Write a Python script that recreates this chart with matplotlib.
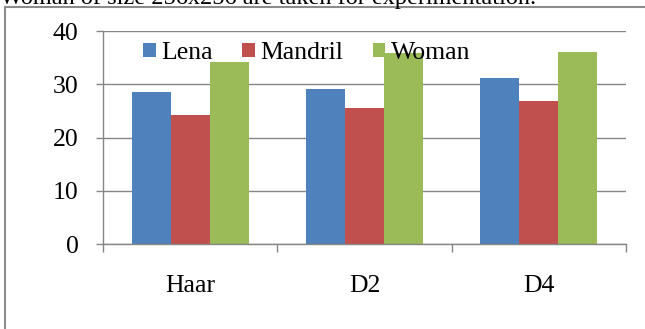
import numpy as np
import matplotlib
matplotlib.use("Agg")
import matplotlib.pyplot as plt
from matplotlib.lines import Line2D

# ---------------------------------------------------------
# Dados
# ---------------------------------------------------------
methods = ["Haar", "D2", "D4"]
lena = [28.5, 29.1, 31.25]
mandril = [24.25, 25.6, 26.8]
woman = [34.25, 35.8, 36.1]
yticks = [0, 10, 20, 30, 40]

caption = "Woman of size 256x256 are taken for experimentation."

plt.rcParams["font.family"] = ["Liberation Serif", "DejaVu Serif"]
FS = 18.5

W, H = 645, 329
fig = plt.figure(figsize=(W / 100, H / 100), dpi=100)
ax = fig.add_axes([103 / W, 1 - 244.3 / H, 523 / W, 213.3 / H])

grey = "#868686"
x = np.arange(len(methods))
w = 0.2235
ax.bar(x - w, lena, w, color="#4F81BD", label="Lena")
ax.bar(x, mandril, w, color="#C0504D", label="Mandril")
ax.bar(x + w, woman, w, color="#9BBB59", label="Woman")

ax.set_xlim(-0.5, len(methods) - 0.5)
ax.set_ylim(0, 40)
ax.set_yticks(yticks)
ax.yaxis.grid(True, color=grey, lw=1)
ax.set_axisbelow(True)

for s in ["top", "right"]:
    ax.spines[s].set_visible(False)
for s in ["left", "bottom"]:
    ax.spines[s].set_color(grey)
    ax.spines[s].set_linewidth(1)

ax.set_xticks(x)
ax.set_xticklabels(methods)
ax.set_xticks(np.arange(-0.5, len(methods)), minor=True)
ax.tick_params(axis="x", which="major", length=0, pad=22, labelsize=FS)
ax.tick_params(axis="x", which="minor", length=6, color=grey, width=1)
ax.tick_params(axis="y", length=4.7, color=grey, width=1, pad=13, labelsize=FS)

fig.legend(loc="center left", bbox_to_anchor=(143 / W, 1 - 53 / H), ncol=3,
           frameon=False, fontsize=FS, handlelength=0.5, handleheight=0.5,
           handletextpad=0.2, columnspacing=1.15, borderpad=0, borderaxespad=0)

# moldura e texto cortado do documento
fig.add_artist(Line2D([5 / W, 5 / W], [0, 1 - 6.7 / H], transform=fig.transFigure,
                      color="#8c8c8c", lw=1.5))
fig.add_artist(Line2D([5 / W, 1], [1 - 6.7 / H, 1 - 6.7 / H], transform=fig.transFigure,
                      color="#8c8c8c", lw=1.5))
fig.text(0, 1 - 4 / H, caption, fontsize=17.5, va="baseline")

fig.savefig("out.png", dpi=100)
